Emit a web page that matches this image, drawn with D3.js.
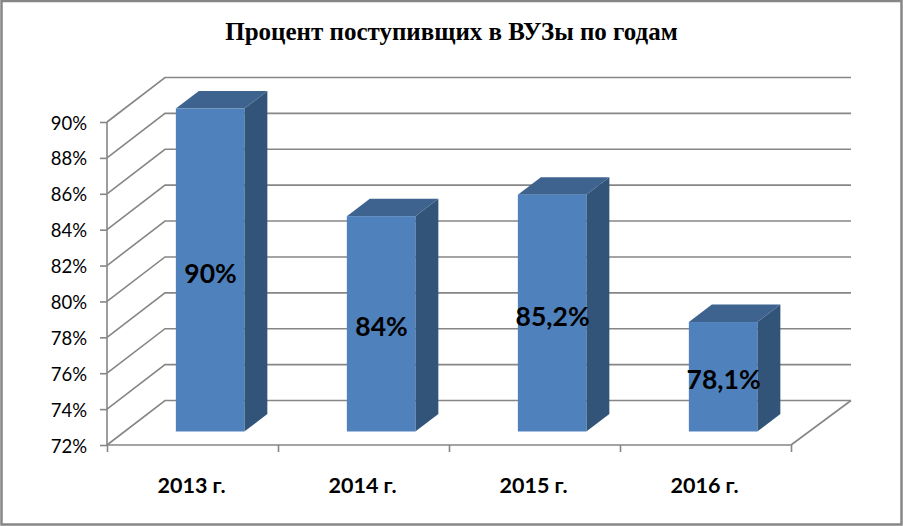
<!DOCTYPE html>
<html lang="ru">
<head>
<meta charset="utf-8">
<script src="https://cdn.jsdelivr.net/npm/d3@7"></script>
<style>
html,body{margin:0;padding:0;background:#fff;overflow:hidden}
svg{display:block}
text{fill:#000}
</style>
</head>
<body>
<svg id="chart" width="903" height="526"></svg>
<script>
const chartTitle = "Процент поступивщих в ВУЗы по годам";
const categories = ["2013 г.", "2014 г.", "2015 г.", "2016 г."];
const values = [90, 84, 85.2, 78.1];
const valueLabels = ["90%", "84%", "85,2%", "78,1%"];
const tickValues = [72, 74, 76, 78, 80, 82, 84, 86, 88, 90];
const tickLabels = ["72%", "74%", "76%", "78%", "80%", "82%", "84%", "86%", "88%", "90%"];

const GRAY = "#868686", FRONT = "#4F81BD", SIDE = "#325479", TOP = "#3E638F";
const svg = d3.select("#chart");

// outer frame
svg.append("rect").attr("x", 1.5).attr("y", 1).attr("width", 900).attr("height", 523.5)
  .attr("fill", "#fff").attr("stroke", GRAY).attr("stroke-width", 2.5);

svg.append("text").attr("x", 451.5).attr("y", 40).attr("text-anchor", "middle")
  .style("font", "bold 25px 'Liberation Serif'").text(chartTitle);

const y = d3.scaleLinear().domain([72, 90]).range([445, 122]);
const x = d3.scaleBand().domain(categories).range([107, 791]);

// oblique projection offsets of the 3-D box
const wallDx = 58, wallDy = -44.5;
const barOffX = 17.6, barOffY = -13.5, depthX = 23, depthY = -17.5;
const barW = 68.5;

// walls and gridlines
const wall = svg.append("g").attr("fill", "none").attr("stroke", GRAY).attr("stroke-width", 1.6);
tickValues.forEach(v => {
  const p = d3.path();
  p.moveTo(107, y(v));
  p.lineTo(107 + wallDx, y(v) + wallDy);
  p.lineTo(791 + wallDx + 2, y(v) + wallDy);
  wall.append("path").attr("d", p.toString());
});
// floor right edge
const edge = d3.path();
edge.moveTo(791, y(72));
edge.lineTo(791 + wallDx + 2, y(72) + wallDy);
wall.append("path").attr("d", edge.toString());

// axes
const yAxis = d3.axisLeft(y).tickValues(tickValues)
  .tickFormat((d, i) => tickLabels[i]).tickSize(7).tickPadding(13);
const gy = svg.append("g").attr("transform", "translate(107,0)").call(yAxis);
gy.selectAll("text").style("font", "18.5px Lato").attr("dy", "0.38em");

const xAxis = d3.axisBottom(d3.scaleLinear().domain([0, 4]).range([107, 791]))
  .tickValues([0, 1, 2, 3, 4]).tickFormat("").tickSize(7);
const gx = svg.append("g").attr("transform", "translate(0,445)").call(xAxis);
[gy, gx].forEach(g => {
  g.selectAll("line").attr("stroke", GRAY).attr("stroke-width", 1.6);
  g.selectAll(".domain").attr("stroke", GRAY).attr("stroke-width", 1.6);
});
gy.select(".domain").attr("d", "M0,122V445");
gx.select(".domain").attr("d", "M107,0H791");

// category labels
svg.append("g").selectAll("text").data(categories).join("text")
  .attr("x", d => x(d) + x.bandwidth() / 2 - 1)
  .attr("y", 493).attr("text-anchor", "middle")
  .style("font", "bold 21.5px Lato").text(d => d);

// bars
const bars = svg.append("g").selectAll("g").data(categories).join("g");
const frontX = d => x(d) + x.bandwidth() / 2 + barOffX - barW / 2;
const base = y(72) + barOffY;
const topOf = i => y(values[i]) + barOffY;

bars.append("path").attr("fill", SIDE).attr("d", (d, i) => {
  const r = frontX(d) + barW, t = topOf(i), p = d3.path();
  p.moveTo(r, t); p.lineTo(r + depthX, t + depthY);
  p.lineTo(r + depthX, base + depthY); p.lineTo(r, base); p.closePath();
  return p.toString();
});
bars.append("path").attr("fill", TOP).attr("d", (d, i) => {
  const l = frontX(d), t = topOf(i), p = d3.path();
  p.moveTo(l, t); p.lineTo(l + depthX, t + depthY);
  p.lineTo(l + barW + depthX, t + depthY); p.lineTo(l + barW, t); p.closePath();
  return p.toString();
});
bars.append("rect").attr("fill", FRONT)
  .attr("x", d => frontX(d)).attr("y", (d, i) => topOf(i))
  .attr("width", barW).attr("height", (d, i) => base - topOf(i));

// value labels
bars.append("text")
  .attr("x", d => frontX(d) + barW / 2 + 0.5)
  .attr("y", (d, i) => (topOf(i) + base) / 2 + 12.5)
  .attr("text-anchor", "middle")
  .style("font", "bold 26.5px Lato")
  .text((d, i) => valueLabels[i]);
</script>
</body>
</html>
